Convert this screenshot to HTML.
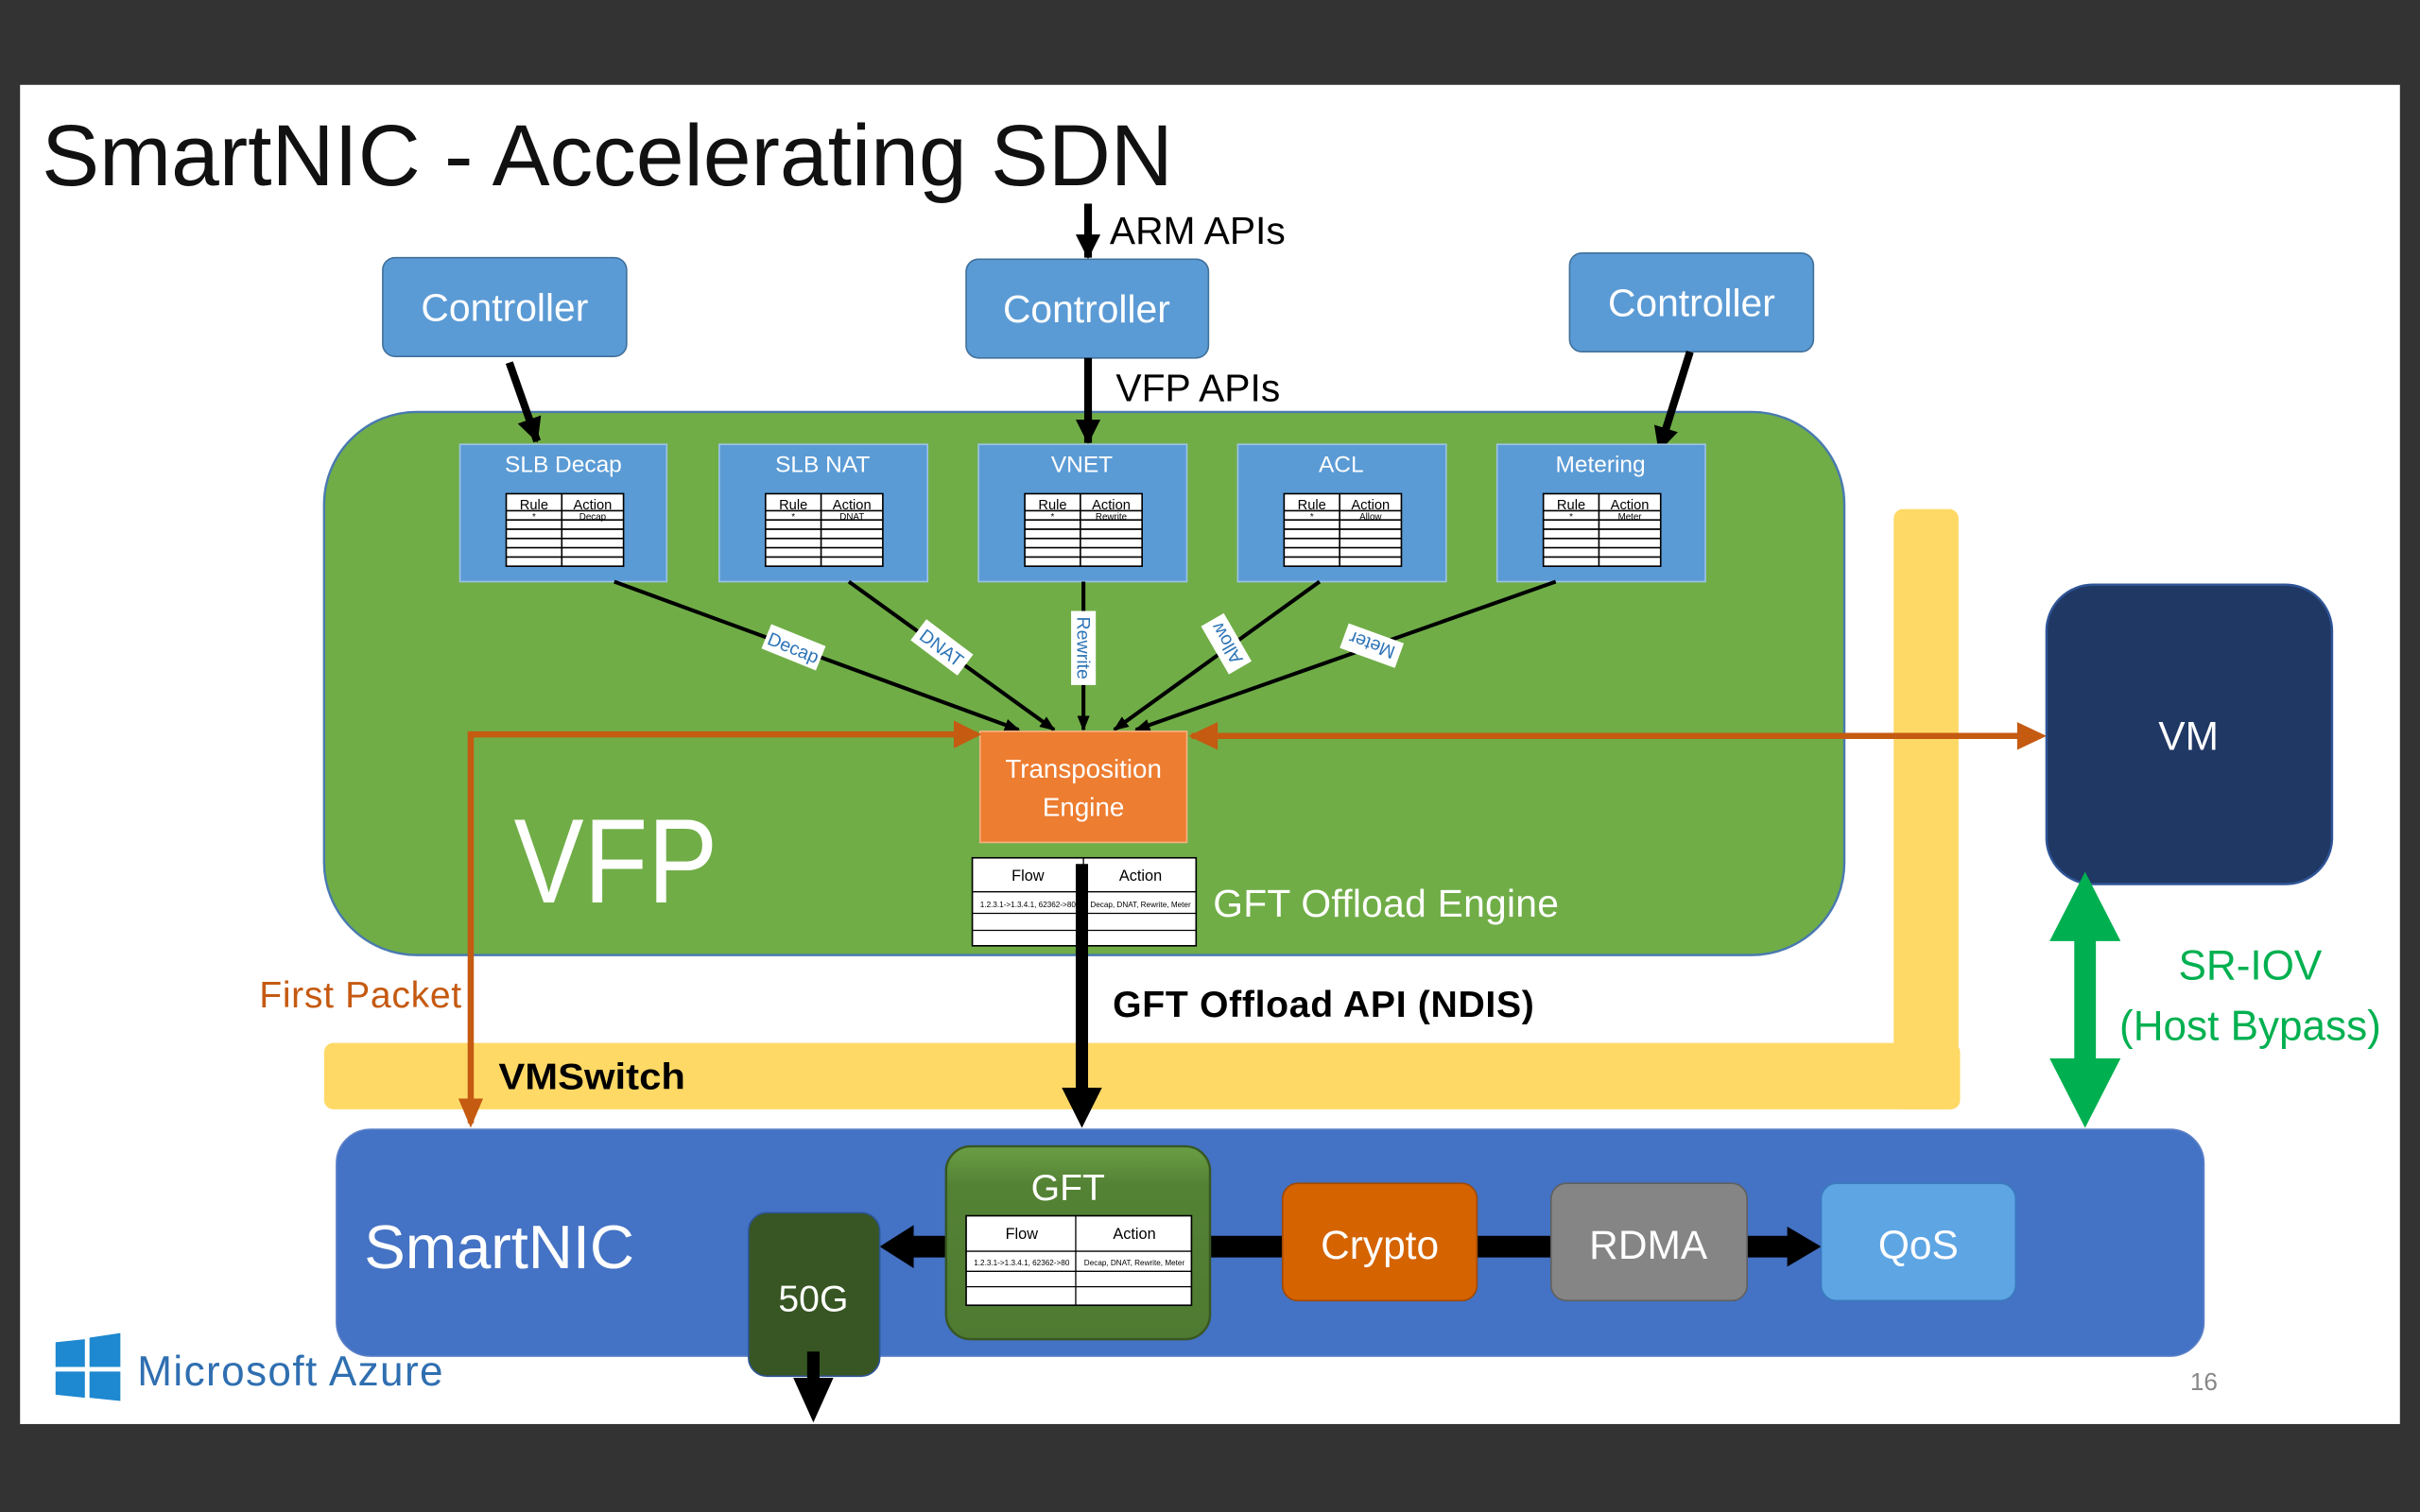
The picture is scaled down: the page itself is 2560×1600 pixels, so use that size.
<!DOCTYPE html>
<html><head><meta charset="utf-8"><style>
html,body{margin:0;padding:0;background:#333;}
svg{display:block;}
text{font-family:"Liberation Sans","DejaVu Sans",sans-serif;}
</style></head><body>
<svg width="2560" height="1600" viewBox="0 0 1568 980" xmlns="http://www.w3.org/2000/svg">
<defs>
<marker id="ab" markerWidth="10" markerHeight="10" refX="9" refY="5" orient="auto" markerUnits="userSpaceOnUse"><path d="M0,1 L10,5 L0,9 Z" fill="#000"/></marker>
<marker id="abig" markerWidth="16" markerHeight="16" refX="15" refY="8" orient="auto" markerUnits="userSpaceOnUse"><path d="M0,0 L16,8 L0,16 Z" fill="#000"/></marker>
<linearGradient id="gg" x1="0" y1="0" x2="0" y2="1"><stop offset="0" stop-color="#6a9f45"/><stop offset="0.2" stop-color="#548235"/><stop offset="1" stop-color="#4f7a31"/></linearGradient>
</defs>
<rect x="0" y="0" width="1568" height="980" fill="#333"/>
<rect x="13" y="55" width="1542" height="868" fill="#fff"/>
<text x="27" y="120" font-size="56" fill="#111" textLength="733">SmartNIC - Accelerating SDN</text>

<rect x="210" y="676" width="1060" height="43" rx="6" fill="#ffd966"/>
<rect x="1227" y="330" width="42" height="389" rx="6" fill="#ffd966"/>
<text x="323" y="706" font-size="24" font-weight="bold" fill="#000" textLength="121" lengthAdjust="spacingAndGlyphs">VMSwitch</text>

<rect x="210" y="267" width="985" height="352" rx="60" fill="#70ad47" stroke="#4a7ab0" stroke-width="1.5"/>
<text x="333" y="585" font-size="78" fill="#fff" textLength="132" lengthAdjust="spacingAndGlyphs">VFP</text>

<g font-size="25" fill="#fff" text-anchor="middle">
<rect x="248" y="167" width="158" height="64" rx="8" fill="#5b9bd5" stroke="#41719c"/>
<text x="327" y="208">Controller</text>
<rect x="626" y="168" width="157" height="64" rx="8" fill="#5b9bd5" stroke="#41719c"/>
<text x="704" y="209">Controller</text>
<rect x="1017" y="164" width="158" height="64" rx="8" fill="#5b9bd5" stroke="#41719c"/>
<text x="1096" y="205">Controller</text>
</g>
<line x1="705" y1="132" x2="705" y2="167" stroke="#000" stroke-width="5" marker-end="url(#abig)"/>
<text x="719" y="158" font-size="25" fill="#000">ARM APIs</text>
<line x1="705" y1="232" x2="705" y2="287" stroke="#000" stroke-width="5" marker-end="url(#abig)"/>
<text x="723" y="260" font-size="25" fill="#000">VFP APIs</text>
<line x1="330" y1="235" x2="348" y2="286" stroke="#000" stroke-width="5" marker-end="url(#abig)"/>
<line x1="1095" y1="228" x2="1075" y2="292" stroke="#000" stroke-width="5" marker-end="url(#abig)"/>

<g>
<g transform="translate(298,0)">
<rect x="0" y="288" width="134" height="89" fill="#5b9bd5" stroke="#9dc3e6"/>
<text x="67" y="306" font-size="15" fill="#fff" text-anchor="middle">SLB Decap</text>
<rect x="30" y="320" width="76" height="47" fill="#fff" stroke="#000"/>
<path d="M66,320V367M30,331H106M30,337H106M30,343H106M30,349H106M30,355H106M30,361H106" stroke="#000" stroke-width="1" fill="none"/>
<text x="48" y="330" font-size="9" text-anchor="middle">Rule</text><text x="86" y="330" font-size="9" text-anchor="middle">Action</text>
<text x="48" y="337" font-size="6" text-anchor="middle">*</text><text x="86" y="337" font-size="6" text-anchor="middle">Decap</text>
</g>
<g transform="translate(466,0)">
<rect x="0" y="288" width="135" height="89" fill="#5b9bd5" stroke="#9dc3e6"/>
<text x="67" y="306" font-size="15" fill="#fff" text-anchor="middle">SLB NAT</text>
<rect x="30" y="320" width="76" height="47" fill="#fff" stroke="#000"/>
<path d="M66,320V367M30,331H106M30,337H106M30,343H106M30,349H106M30,355H106M30,361H106" stroke="#000" stroke-width="1" fill="none"/>
<text x="48" y="330" font-size="9" text-anchor="middle">Rule</text><text x="86" y="330" font-size="9" text-anchor="middle">Action</text>
<text x="48" y="337" font-size="6" text-anchor="middle">*</text><text x="86" y="337" font-size="6" text-anchor="middle">DNAT</text>
</g>
<g transform="translate(634,0)">
<rect x="0" y="288" width="135" height="89" fill="#5b9bd5" stroke="#9dc3e6"/>
<text x="67" y="306" font-size="15" fill="#fff" text-anchor="middle">VNET</text>
<rect x="30" y="320" width="76" height="47" fill="#fff" stroke="#000"/>
<path d="M66,320V367M30,331H106M30,337H106M30,343H106M30,349H106M30,355H106M30,361H106" stroke="#000" stroke-width="1" fill="none"/>
<text x="48" y="330" font-size="9" text-anchor="middle">Rule</text><text x="86" y="330" font-size="9" text-anchor="middle">Action</text>
<text x="48" y="337" font-size="6" text-anchor="middle">*</text><text x="86" y="337" font-size="6" text-anchor="middle">Rewrite</text>
</g>
<g transform="translate(802,0)">
<rect x="0" y="288" width="135" height="89" fill="#5b9bd5" stroke="#9dc3e6"/>
<text x="67" y="306" font-size="15" fill="#fff" text-anchor="middle">ACL</text>
<rect x="30" y="320" width="76" height="47" fill="#fff" stroke="#000"/>
<path d="M66,320V367M30,331H106M30,337H106M30,343H106M30,349H106M30,355H106M30,361H106" stroke="#000" stroke-width="1" fill="none"/>
<text x="48" y="330" font-size="9" text-anchor="middle">Rule</text><text x="86" y="330" font-size="9" text-anchor="middle">Action</text>
<text x="48" y="337" font-size="6" text-anchor="middle">*</text><text x="86" y="337" font-size="6" text-anchor="middle">Allow</text>
</g>
<g transform="translate(970,0)">
<rect x="0" y="288" width="135" height="89" fill="#5b9bd5" stroke="#9dc3e6"/>
<text x="67" y="306" font-size="15" fill="#fff" text-anchor="middle">Metering</text>
<rect x="30" y="320" width="76" height="47" fill="#fff" stroke="#000"/>
<path d="M66,320V367M30,331H106M30,337H106M30,343H106M30,349H106M30,355H106M30,361H106" stroke="#000" stroke-width="1" fill="none"/>
<text x="48" y="330" font-size="9" text-anchor="middle">Rule</text><text x="86" y="330" font-size="9" text-anchor="middle">Action</text>
<text x="48" y="337" font-size="6" text-anchor="middle">*</text><text x="86" y="337" font-size="6" text-anchor="middle">Meter</text>
</g>
</g>

<g stroke="#000" stroke-width="2.5" fill="none">
<line x1="398" y1="377" x2="660" y2="473" marker-end="url(#ab)"/>
<line x1="550" y1="377" x2="683" y2="473" marker-end="url(#ab)"/>
<line x1="702" y1="377" x2="702" y2="473" marker-end="url(#ab)"/>
<line x1="855" y1="377" x2="722" y2="473" marker-end="url(#ab)"/>
<line x1="1008" y1="377" x2="736" y2="473" marker-end="url(#ab)"/>
</g>
<g font-size="12" fill="#2e75b6" text-anchor="middle">
<g transform="translate(514,420) rotate(22)"><rect x="-19" y="-9" width="38" height="17" fill="#fff"/><text x="0" y="4">Decap</text></g>
<g transform="translate(610,420) rotate(37)"><rect x="-19" y="-9" width="38" height="17" fill="#fff"/><text x="0" y="4">DNAT</text></g>
<g transform="translate(702,420) rotate(90)"><rect x="-24" y="-8" width="48" height="16" fill="#fff"/><text x="0" y="4">Rewrite</text></g>
<g transform="translate(795,417) rotate(-120)"><rect x="-18" y="-9" width="36" height="17" fill="#fff"/><text x="0" y="4">Allow</text></g>
<g transform="translate(889,418) rotate(-160)"><rect x="-19" y="-9" width="38" height="17" fill="#fff"/><text x="0" y="4">Meter</text></g>
</g>

<rect x="635" y="474" width="134" height="72" fill="#ed7d31" stroke="#f4b183"/>
<text x="702" y="504" font-size="17" fill="#fff" text-anchor="middle">Transposition</text>
<text x="702" y="529" font-size="17" fill="#fff" text-anchor="middle">Engine</text>

<rect x="630" y="556" width="145" height="57" fill="#fff" stroke="#000"/>
<path d="M702,556V613M630,578H775M630,592H775M630,603H775" stroke="#000" stroke-width="0.8" fill="none"/>
<text x="666" y="571" font-size="10" text-anchor="middle">Flow</text>
<text x="739" y="571" font-size="10" text-anchor="middle">Action</text>
<text x="666" y="588" font-size="5" text-anchor="middle">1.2.3.1-&gt;1.3.4.1, 62362-&gt;80</text>
<text x="739" y="588" font-size="5" text-anchor="middle">Decap, DNAT, Rewrite, Meter</text>
<text x="786" y="594" font-size="25" fill="#fff" textLength="224">GFT Offload Engine</text>
<line x1="701" y1="560" x2="701" y2="712" stroke="#000" stroke-width="8"/>
<path d="M688,705 L714,705 L701,731 Z" fill="#000"/>
<text x="721" y="659" font-size="24" font-weight="bold" fill="#000" textLength="273">GFT Offload API (NDIS)</text>

<polyline points="633,476 305,476 305,728" fill="none" stroke="#c55a11" stroke-width="4"/>
<path d="M618,467 L636,476 L618,485 Z" fill="#c55a11"/>
<path d="M297,712 L305,731 L313,712 Z" fill="#c55a11"/>
<line x1="772" y1="477" x2="1322" y2="477" stroke="#c55a11" stroke-width="4"/>
<path d="M789,468 L770,477 L789,486 Z" fill="#c55a11"/>
<path d="M1307,468 L1326,477 L1307,486 Z" fill="#c55a11"/>
<text x="168" y="653" font-size="24" fill="#c55a11" textLength="131">First Packet</text>

<rect x="1326" y="379" width="185" height="194" rx="30" fill="#203864" stroke="#2f5597" stroke-width="1.5"/>
<text x="1418" y="486" font-size="26" fill="#fff" text-anchor="middle">VM</text>

<rect x="1344" y="605" width="14" height="86" fill="#00b050"/>
<path d="M1328,610 L1351,565 L1374,610 Z" fill="#00b050"/>
<path d="M1328,686 L1351,731 L1374,686 Z" fill="#00b050"/>
<text x="1458" y="635" font-size="27" fill="#00b050" text-anchor="middle">SR-IOV</text>
<text x="1458" y="674" font-size="27" fill="#00b050" text-anchor="middle">(Host Bypass)</text>

<rect x="218" y="732" width="1210" height="147" rx="22" fill="#4472c4" stroke="#5b80c8"/>
<text x="236" y="822" font-size="40" fill="#fff" textLength="175">SmartNIC</text>

<line x1="784" y1="808" x2="1160" y2="808" stroke="#000" stroke-width="14"/>
<path d="M1158,795 L1180,808 L1158,821 Z" fill="#000"/>
<line x1="613" y1="808" x2="590" y2="808" stroke="#000" stroke-width="14"/>
<path d="M592,794 L570,808 L592,822 Z" fill="#000"/>

<rect x="485" y="786" width="85" height="106" rx="12" fill="#375623" stroke="#2f5597"/>
<text x="527" y="850" font-size="24" fill="#fff" text-anchor="middle">50G</text>
<line x1="527" y1="876" x2="527" y2="900" stroke="#000" stroke-width="8"/>
<path d="M514,893 L540,893 L527,922 Z" fill="#000"/>

<rect x="613" y="743" width="171" height="125" rx="16" fill="url(#gg)" stroke="#385723" stroke-width="1.5"/>
<text x="692" y="778" font-size="24" fill="#fff" text-anchor="middle">GFT</text>
<rect x="626" y="788" width="146" height="58" fill="#fff" stroke="#000"/>
<path d="M697,788V846M626,811H772M626,824H772M626,834H772" stroke="#000" stroke-width="0.8" fill="none"/>
<text x="662" y="803" font-size="10" text-anchor="middle">Flow</text>
<text x="735" y="803" font-size="10" text-anchor="middle">Action</text>
<text x="662" y="820" font-size="5" text-anchor="middle">1.2.3.1-&gt;1.3.4.1, 62362-&gt;80</text>
<text x="735" y="820" font-size="5" text-anchor="middle">Decap, DNAT, Rewrite, Meter</text>

<rect x="831" y="767" width="126" height="76" rx="10" fill="#d46300" stroke="#a04a00"/>
<text x="894" y="816" font-size="26" fill="#fff" text-anchor="middle">Crypto</text>
<rect x="1005" y="767" width="127" height="76" rx="10" fill="#858585" stroke="#606060"/>
<text x="1068" y="816" font-size="26" fill="#fff" text-anchor="middle">RDMA</text>
<rect x="1180" y="767" width="126" height="76" rx="10" fill="#5ea5e4" stroke="#3a7bbf"/>
<text x="1243" y="816" font-size="26" fill="#fff" text-anchor="middle">QoS</text>

<g fill="#1e88d0">
<path d="M36,870 L55,868 L55,886 L36,886 Z"/>
<path d="M58,867 L78,864 L78,886 L58,886 Z"/>
<path d="M36,889 L55,889 L55,906 L36,904 Z"/>
<path d="M58,889 L78,889 L78,908 L58,906 Z"/>
</g>
<text x="89" y="898" font-size="27" fill="#2f6fb0" textLength="198">Microsoft Azure</text>
<text x="1428" y="901" font-size="16" fill="#888" text-anchor="middle">16</text>
</svg>
</body></html>
